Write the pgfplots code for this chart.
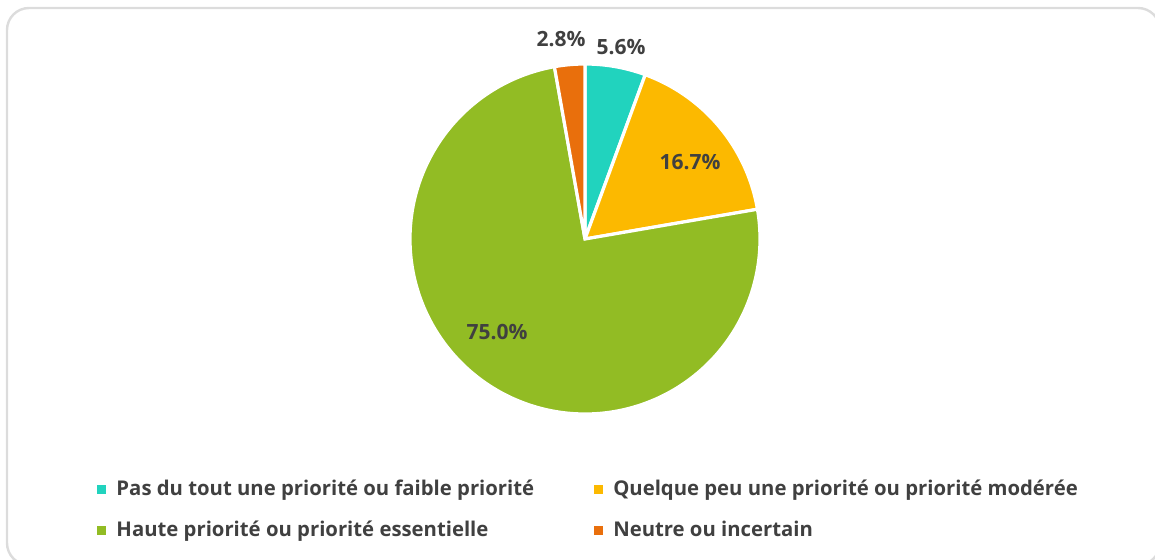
\documentclass[border=0pt]{standalone}
\usepackage{pgfplots}
\pgfplotsset{compat=1.18}
\usepackage{fontspec}
\setmainfont{Open Sans}
\definecolor{cTeal}{RGB}{33,211,190}
\definecolor{cYel}{RGB}{252,185,0}
\definecolor{cGreen}{RGB}{146,188,36}
\definecolor{cOrange}{RGB}{233,111,12}
\definecolor{cText}{RGB}{64,64,64}
\definecolor{cBorder}{RGB}{220,220,220}
\begin{document}
\begin{tikzpicture}
% data (percent)
\def\va{5.6}\def\vb{16.7}\def\vc{75.0}\def\vd{2.8}
\pgfmathsetmacro\tot{\va+\vb+\vc+\vd}
\pgfmathsetmacro\aA{90}
\pgfmathsetmacro\aB{\aA-\va/\tot*360}
\pgfmathsetmacro\aC{\aB-\vb/\tot*360}
\pgfmathsetmacro\aD{\aC-\vc/\tot*360}
\pgfmathsetmacro\aE{\aD-\vd/\tot*360}
\useasboundingbox (0pt,0pt) rectangle (577.5pt,279.5pt);
\draw[cBorder, line width=1.2pt, rounded corners=11pt] (3.5pt,275.5pt) rectangle (580pt,-3pt);
\begin{axis}[
  at={(205pt,72.5pt)}, anchor=south west,
  scale only axis, width=175pt, height=175pt,
  xmin=-1, xmax=1, ymin=-1, ymax=1,
  hide axis, clip=false,
  legend columns=2,
  legend cell align=left,
  legend style={draw=none, fill=none, inner sep=0pt,
    at={(-0.894,-0.177)}, anchor=north west,
    font=\bfseries\fontsize{10.15}{12}\selectfont, text=cText,
    /tikz/every even column/.append style={column sep=28pt},
    row sep=7pt},
  legend image code/.code={\path[#1,draw=none] (0pt,-2.2pt) rectangle (4.4pt,2.2pt);\path[draw=none,fill=none] (0pt,0pt) -- (7.5pt,0pt);},
]
\addplot[fill=cTeal, draw=white, line width=1.6pt, domain=\aB:\aA, samples=40, variable=\t]
  ({cos(\t)},{sin(\t)}) -- (axis cs:0,0) -- cycle;
\addlegendentry{Pas du tout une priorité ou faible priorité}
\addplot[fill=cYel, draw=white, line width=1.6pt, domain=\aC:\aB, samples=60, variable=\t]
  ({cos(\t)},{sin(\t)}) -- (axis cs:0,0) -- cycle;
\addlegendentry{Quelque peu une priorité ou priorité modérée}
\addplot[fill=cGreen, draw=white, line width=1.6pt, domain=\aD:\aC, samples=200, variable=\t]
  ({cos(\t)},{sin(\t)}) -- (axis cs:0,0) -- cycle;
\addlegendentry{Haute priorité ou priorité essentielle}
\addplot[fill=cOrange, draw=white, line width=1.6pt, domain=\aE:\aD, samples=20, variable=\t]
  ({cos(\t)},{sin(\t)}) -- (axis cs:0,0) -- cycle;
\addlegendentry{Neutre ou incertain}
\begin{scope}[every node/.style={font=\bfseries\fontsize{10.5}{12}\selectfont, text=cText}]
\node at (axis cs:0.206,1.097) {5.6\%};
\node at (axis cs:-0.137,1.143) {2.8\%};
\node at (axis cs:0.6,0.44) {16.7\%};
\node at (axis cs:-0.503,-0.531) {75.0\%};
\end{scope}
\end{axis}
\end{tikzpicture}
\end{document}
